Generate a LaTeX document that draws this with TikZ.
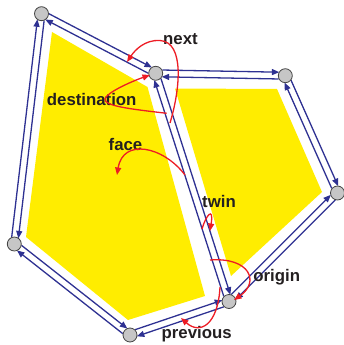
\documentclass[tikz,border=0pt]{standalone}
\usepackage{fontspec}
\setmainfont{Liberation Sans}
\usetikzlibrary{calc,arrows.meta}
\definecolor{fy}{HTML}{FFED00}
\definecolor{eb}{HTML}{2E3192}
\definecolor{er}{HTML}{ED1C24}
\definecolor{vg}{HTML}{C6C6C6}
\definecolor{vb}{HTML}{444444}
\definecolor{tx}{HTML}{231F20}
\pgfdeclarelayer{bg}
\pgfsetlayers{bg,main}
\newcommand\hEdge[2]{\draw[he] ($(#1)!3.4pt!90:(#2)$) -- ($(#2)!3.4pt!-90:(#1)$);}
\begin{document}
\begin{tikzpicture}[x=1pt,y=-1pt,
  vtx/.style={circle,fill=vg,draw=vb,line width=0.8pt,minimum size=14pt,inner sep=0pt},
  he/.style={draw=eb,line width=1.3pt,shorten <=6.5pt,shorten >=6pt,-{Triangle[length=7.5pt,width=6pt]}},
  rel/.style={draw=er,line width=1.3pt,-{Triangle[length=7.5pt,width=6pt]}},
  lbl/.style={anchor=base,text=tx,font=\fontsize{16.8}{20}\selectfont\bfseries,inner sep=0pt},
  yface/.style={fill=fy}]
\useasboundingbox (0,0) rectangle (344,345);
% vertices
\node[vtx] (A) at (41.5,13.7) {};
\node[vtx] (B) at (155.7,73.3) {};
\node[vtx] (C) at (285.3,75.7) {};
\node[vtx] (D) at (337.5,193) {};
\node[vtx] (E) at (229,301.5) {};
\node[vtx] (F) at (130,335) {};
\node[vtx] (G) at (14.3,244) {};
\begin{pgfonlayer}{bg}
  \fill[yface] (52,32) -- (147.5,87) -- (205,296) -- (128,320) -- (26,237) -- cycle;
  \fill[yface] (175,88.5) -- (277,89) -- (322,192) -- (231,276) -- cycle;
  \hEdge{A}{B}\hEdge{B}{A}
  \hEdge{B}{C}\hEdge{C}{B}
  \hEdge{C}{D}\hEdge{D}{C}
  \hEdge{D}{E}\hEdge{E}{D}
  \hEdge{E}{B}\hEdge{B}{E}
  \hEdge{E}{F}\hEdge{F}{E}
  \hEdge{F}{G}\hEdge{G}{F}
  \hEdge{G}{A}\hEdge{A}{G}
\end{pgfonlayer}
% labels
\node[lbl] (lnext) at (180.5,45) {next};
\node[lbl] (ldest) at (91.7,105) {destination};
\node[lbl] (lface) at (125.5,150) {face};
\node[lbl] (ltwin) at (219,207) {twin};
\node[lbl] (lorig) at (276.7,281.7) {origin};
\node[lbl] (lprev) at (196.7,338) {previous};
% red relation arrows
\coordinate (n0) at (170,123);
\coordinate (n1) at (160,40.5);
\coordinate (n2) at (127,62);
\coordinate (d0) at (166.7,113.3);
\coordinate (d1) at (105,99);
\coordinate (d2) at (150,75);
\coordinate (f0) at (185,175);
\coordinate (f1) at (117,175);
\coordinate (t0) at (202,229);
\coordinate (t1) at (210,231);
\coordinate (o0) at (210,260);
\coordinate (o1) at (234,300);
\coordinate (p0) at (220,287);
\coordinate (p1) at (181,318);
\draw[rel] (n0) .. controls (180,90) and (185,42) .. (n1) .. controls (145,39.5) and (135,50) .. (n2);
\draw[rel] (d0) .. controls (130,109) and (104,106) .. (d1) .. controls (106,93) and (130,82) .. (d2);
\draw[rel] (f0) .. controls (163,146) and (123,138) .. (f1);
\draw[rel] (t0) .. controls (206,215) and (214,206) .. (t1);
\draw[rel] (o0) .. controls (250,257) and (260,282) .. (o1);
\draw[rel] (p0) .. controls (218,325) and (200,335) .. (p1);
\end{tikzpicture}
\end{document}
